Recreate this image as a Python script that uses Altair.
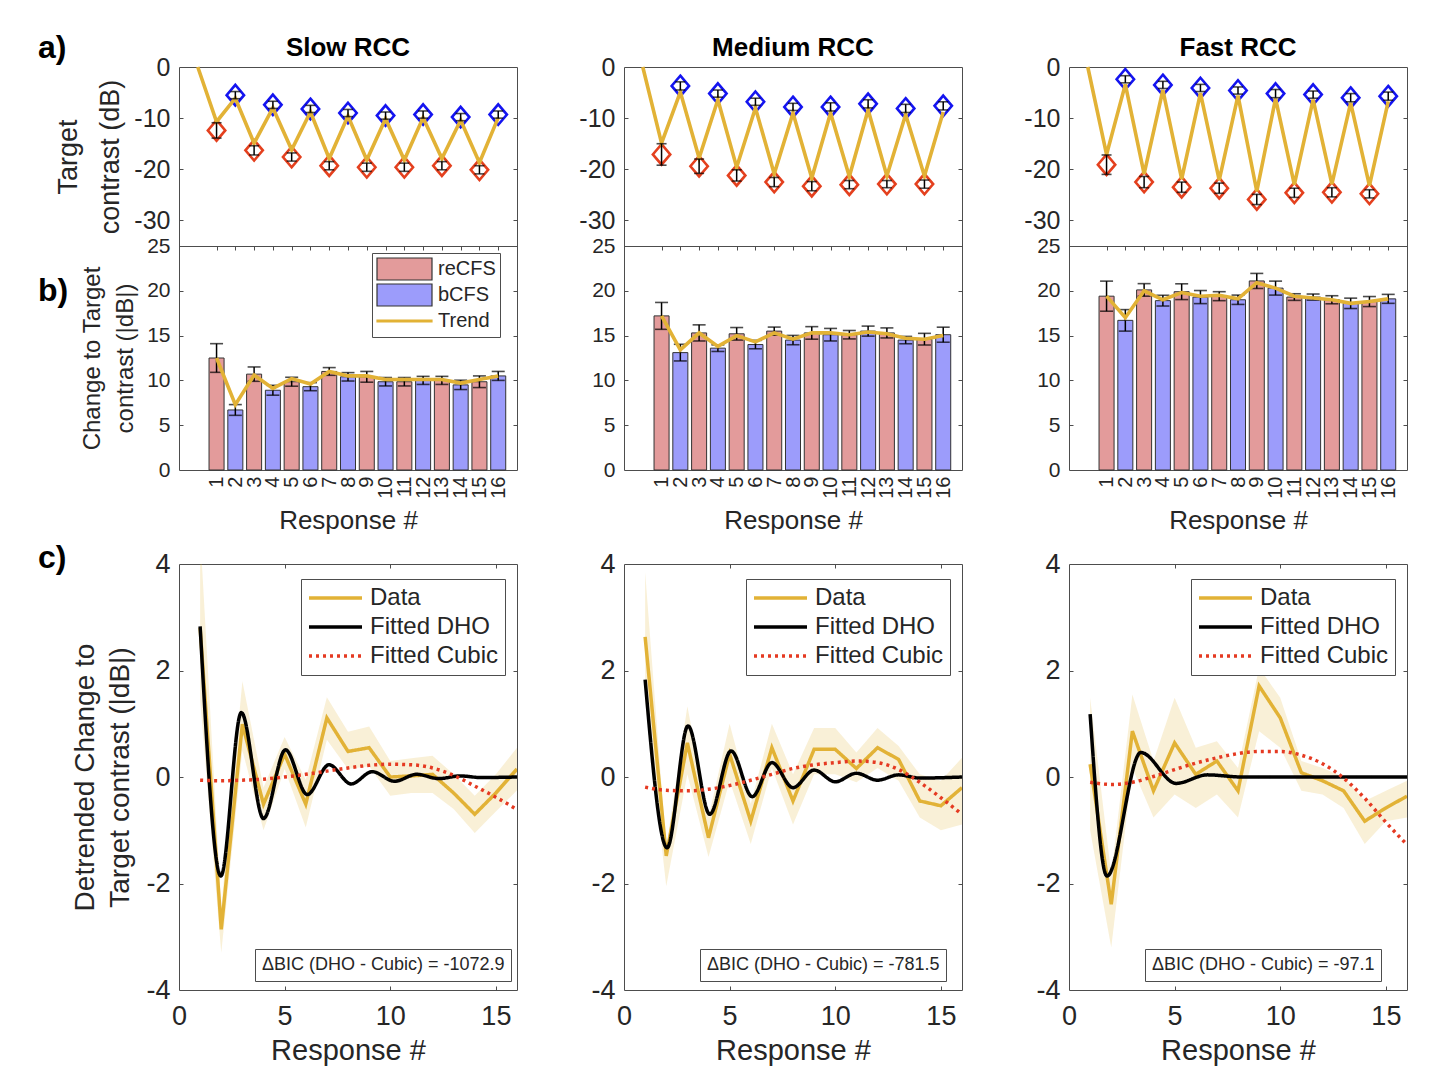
import altair as alt
import pandas as pd

# ---------------- data ----------------
RESPONSES = list(range(1, 17))
CONDITIONS = ["Slow RCC", "Medium RCC", "Fast RCC"]
BIC_TEXT = {"Slow RCC": "-1072.9", "Medium RCC": "-781.5", "Fast RCC": "-97.1"}

A_TICKS = [0, -10, -20, -30]
B_TICKS = [0, 5, 10, 15, 20, 25]
C_XTICKS = [0, 5, 10, 15]
C_YTICKS = [-4, -2, 0, 2, 4]

# panel a: mean target contrast (dB) per response and error half-widths
A_MEAN = {
    "Slow RCC":   [-12.4, -5.5, -16.3, -7.4, -17.6, -8.2, -19.3, -9.0, -19.6, -9.5, -19.6, -9.3, -19.3, -9.8, -20.1, -9.3],
    "Medium RCC": [-17.1, -3.7, -19.4, -5.2, -21.2, -6.8, -22.5, -7.8, -23.3, -7.8, -23.0, -7.2, -22.9, -8.1, -22.9, -7.6],
    "Fast RCC":   [-19.1, -2.4, -22.5, -3.5, -23.5, -4.1, -23.7, -4.6, -25.9, -5.2, -24.6, -5.4, -24.5, -6.0, -24.8, -5.7],
}
A_ERR = {
    "Slow RCC":   [1.5, 0.7, 0.9, 0.7, 0.8, 0.7, 0.8, 0.7, 0.8, 0.7, 0.8, 0.7, 0.8, 0.7, 0.8, 0.7],
    "Medium RCC": [2.1, 0.8, 1.4, 0.7, 1.1, 0.7, 0.9, 0.7, 0.9, 0.8, 0.8, 0.8, 0.7, 0.8, 0.8, 0.8],
    "Fast RCC":   [1.9, 0.7, 1.1, 0.7, 1.0, 0.7, 1.0, 0.7, 1.0, 0.8, 0.9, 0.7, 0.9, 0.8, 0.8, 0.8],
}
# panel a: the gold trace (starts at response 0)
A_TRACE_X = [0] + RESPONSES
A_TRACE = {
    "Slow RCC":   [0.0, -10.7, -6.1, -14.9, -8.0, -16.2, -8.8, -17.9, -9.6, -18.2, -10.1, -18.2, -9.9, -17.9, -10.4, -18.7, -9.9],
    "Medium RCC": [0.0, -14.9, -4.9, -17.8, -6.4, -19.6, -8.0, -20.9, -9.0, -21.7, -9.0, -21.4, -8.4, -21.3, -9.3, -21.3, -8.8],
    "Fast RCC":   [0.0, -17.1, -3.4, -20.9, -4.5, -21.9, -5.1, -22.1, -5.6, -24.3, -6.2, -23.0, -6.4, -22.9, -7.0, -23.2, -6.7],
}

# panel b: change to target contrast (|dB|)
B_BAR = {
    "Slow RCC":   [12.5, 6.7, 10.7, 8.9, 9.85, 9.3, 11.0, 10.4, 10.4, 9.85, 9.85, 10.0, 10.0, 9.5, 9.85, 10.5],
    "Medium RCC": [17.2, 13.1, 15.3, 13.6, 15.2, 14.0, 15.5, 14.5, 15.3, 15.1, 15.1, 15.5, 15.3, 14.5, 14.6, 15.1],
    "Fast RCC":   [19.4, 16.7, 20.1, 18.9, 19.9, 19.3, 19.4, 19.0, 21.1, 20.3, 19.3, 19.3, 19.0, 18.6, 18.8, 19.1],
}
B_ERR = {
    "Slow RCC":   [1.6, 0.6, 0.8, 0.55, 0.5, 0.45, 0.43, 0.47, 0.6, 0.47, 0.47, 0.45, 0.45, 0.52, 0.65, 0.5],
    "Medium RCC": [1.5, 0.93, 0.9, 0.37, 0.7, 0.47, 0.45, 0.52, 0.7, 0.7, 0.47, 0.56, 0.56, 0.41, 0.65, 0.84],
    "Fast RCC":   [1.68, 1.2, 0.7, 0.6, 0.88, 0.73, 0.5, 0.52, 0.84, 0.78, 0.37, 0.34, 0.45, 0.58, 0.56, 0.5],
}
B_TREND = {
    "Slow RCC":   [12.5, 7.3, 10.6, 9.1, 10.2, 9.6, 11.0, 10.5, 10.5, 10.1, 10.1, 10.1, 10.1, 9.7, 10.1, 10.5],
    "Medium RCC": [17.2, 13.4, 15.3, 13.8, 15.0, 14.3, 15.3, 14.6, 15.3, 15.3, 15.1, 15.4, 15.2, 14.7, 14.6, 15.0],
    "Fast RCC":   [19.4, 17.0, 20.0, 19.0, 19.8, 19.4, 19.5, 19.1, 20.9, 20.3, 19.4, 19.2, 19.0, 18.6, 18.8, 19.1],
}
B_SERIES = ["reCFS", "bCFS", "Trend"]

# panel c: detrended data with its band, fitted DHO and fitted cubic
C_DATA = {
    "Slow RCC":   [2.8, -2.86, 0.99, -0.51, 0.43, -0.51, 1.11, 0.48, 0.55, 0.0, 0.02, 0.05, -0.3, -0.7, -0.3, 0.15],
    "Medium RCC": [2.63, -1.48, 0.64, -1.14, 0.43, -0.83, 0.55, -0.45, 0.52, 0.52, 0.16, 0.55, 0.33, -0.45, -0.54, -0.2],
    "Fast RCC":   [0.24, -2.39, 0.86, -0.26, 0.64, 0.05, 0.3, -0.26, 1.71, 1.11, 0.08, -0.07, -0.26, -0.83, -0.58, -0.36],
}
C_LO = {
    "Slow RCC":   [1.45, -3.3, 0.5, -1.0, 0.15, -0.95, 0.7, 0.15, 0.2, -0.35, -0.3, -0.3, -0.6, -1.05, -0.65, -0.25],
    "Medium RCC": [1.46, -2.05, 0.05, -1.5, -0.07, -1.26, 0.17, -0.89, 0.05, 0.05, -0.1, 0.17, -0.07, -0.76, -1.0, -0.89],
    "Fast RCC":   [-1.0, -3.2, 0.17, -0.76, -0.33, -0.58, -0.33, -0.76, 0.86, 0.55, -0.26, -0.33, -0.58, -1.26, -0.83, -0.76],
}
C_HI = {
    "Slow RCC":   [4.6, -2.45, 1.8, -0.2, 0.75, -0.05, 1.5, 0.85, 0.95, 0.3, 0.35, 0.4, 0.05, -0.35, 0.05, 0.55],
    "Medium RCC": [3.85, -1.33, 1.33, -0.76, 1.0, -0.5, 1.0, 0.05, 0.92, 0.92, 0.46, 0.92, 0.58, 0.05, -0.07, 0.36],
    "Fast RCC":   [1.49, -1.83, 1.55, 0.3, 1.49, 0.55, 0.67, 0.17, 2.05, 1.49, 0.3, 0.17, 0.0, -0.45, -0.26, -0.07],
}
DHO_X = {
    "Slow RCC":   [1, 1.98, 2.95, 4.0, 5.04, 6.07, 7.1, 8.15, 9.15, 10.2, 11.25, 12.3, 13.3, 14.3, 16],
    "Medium RCC": [1, 2.04, 3.03, 4.06, 5.07, 6.07, 7.0, 8.0, 9.0, 10.0, 11.0, 12.0, 13.0, 14.0, 16],
    "Fast RCC":   [1, 1.8, 3.4, 5.07, 6.55, 8.2, 16],
}
DHO_Y = {
    "Slow RCC":   [2.83, -1.86, 1.21, -0.78, 0.51, -0.33, 0.23, -0.13, 0.1, -0.08, 0.05, -0.03, 0.02, -0.01, 0.0],
    "Medium RCC": [1.83, -1.33, 0.96, -0.7, 0.49, -0.37, 0.27, -0.2, 0.13, -0.09, 0.07, -0.06, 0.04, -0.02, 0.0],
    "Fast RCC":   [1.18, -1.86, 0.46, -0.12, 0.04, 0.0, 0.0],
}
C_CUBIC = {
    "Slow RCC":   [-0.06, -0.07, -0.06, -0.04, 0.0, 0.05, 0.11, 0.17, 0.22, 0.24, 0.23, 0.17, 0.03, -0.17, -0.38, -0.61],
    "Medium RCC": [-0.19, -0.25, -0.26, -0.23, -0.16, -0.06, 0.05, 0.16, 0.23, 0.27, 0.3, 0.27, 0.14, -0.1, -0.39, -0.7],
    "Fast RCC":   [-0.1, -0.14, -0.1, 0.01, 0.14, 0.26, 0.36, 0.44, 0.48, 0.48, 0.41, 0.25, -0.02, -0.4, -0.85, -1.27],
}
C_SERIES = ["Data", "Fitted DHO", "Fitted Cubic"]

# ---------------- style ----------------
FONT = "Liberation Sans"
TXT = "#262626"
FRAME = "#4d4d4d"
GOLD = "#E2B236"
RED_M = "#E4401E"
BLUE_M = "#1414F0"
RED_BAR = "#E39B9B"
BLUE_BAR = "#9C9CFB"
EDGE = "#333333"
CUBIC_RED = "#E53A22"

W = 338
H_AB = 403
H_A = 179
H_C = 426

RECT_PATH = "M-1,-0.4H1V0.4H-1Z"
LINE_PATH = "M-1,-0.035H1V0.035H-1Z"
DIAMOND_PATH = "M0,-1L0.85,0L0,1L-0.85,0Z"
HYPHEN_EXPR = "replace(datum.label, '\u2212', '-')"


def sx_ab():
    return alt.Scale(domain=[-1, 17], nice=False, zero=False)


def sy_a():
    return alt.Scale(domain=[-35, 0], range=[H_A, 0], nice=False, zero=False)


def sy_b():
    return alt.Scale(domain=[0, 25], range=[H_AB, H_A], nice=False, zero=False)


def sx_c():
    return alt.Scale(domain=[0, 16], nice=False, zero=False)


def sy_c():
    return alt.Scale(domain=[-4, 4], nice=False, zero=False)


def tick_axis(orient, offset, values, domain=False):
    return alt.Axis(orient=orient, offset=offset, values=values, labels=False, ticks=True,
                    tickSize=4, tickColor=FRAME, tickWidth=1, domain=domain,
                    domainColor=FRAME, domainWidth=1, grid=False, title=None)


def ghost(df, xf, yf, xscale, yscale, xaxis, yaxis):
    return alt.Chart(df).mark_point(opacity=0).encode(
        x=alt.X(f"{xf}:Q", scale=xscale, axis=xaxis),
        y=alt.Y(f"{yf}:Q", scale=yscale, axis=yaxis),
    )


def label_text(txt, px, py, size=32, align="left"):
    return alt.Chart(pd.DataFrame({"t": [txt]})).mark_text(
        fontSize=size, fontWeight="bold", align=align, baseline="middle", color="black", font=FONT
    ).encode(text="t:N", x=alt.value(px), y=alt.value(py))


def panel_ab(cond, first):
    a_df = pd.DataFrame({"resp": RESPONSES, "val": A_MEAN[cond], "err": A_ERR[cond]})
    a_tr = pd.DataFrame({"resp": A_TRACE_X, "val": A_TRACE[cond]})
    xa = alt.X("resp:Q", scale=sx_ab(), axis=None)
    ya_axis = alt.Axis(orient="left", values=A_TICKS, labelFontSize=25, labelPadding=9, ticks=False,
                       tickSize=0, domain=False, grid=False, labelFlush=False, labelOverlap=False,
                       labelExpr=HYPHEN_EXPR,
                       title=["Target", "contrast (dB)"] if first else None,
                       titleFontSize=27, titleLineHeight=42, titleX=-97)
    base_a = alt.Chart(a_df).transform_calculate(lo="datum.val - datum.err", hi="datum.val + datum.err")
    diamonds = base_a.mark_point(shape=DIAMOND_PATH, filled=False, size=420, strokeWidth=2.6, opacity=1).encode(
        x=xa, y=alt.Y("val:Q", scale=sy_a(), axis=ya_axis),
        color=alt.condition("datum.resp % 2 == 1", alt.value(RED_M), alt.value(BLUE_M)),
    )
    trace = alt.Chart(a_tr).mark_line(color=GOLD, strokeWidth=3.6).encode(
        x=xa, y=alt.Y("val:Q", scale=sy_a(), axis=None))
    a_rule = base_a.mark_rule(color="black", strokeWidth=1.5).encode(
        x=xa, y=alt.Y("lo:Q", scale=sy_a(), axis=None), y2="hi:Q")
    a_cap_lo = base_a.mark_tick(orient="horizontal", size=10, thickness=1.6, color="black").encode(
        x=xa, y=alt.Y("lo:Q", scale=sy_a(), axis=None))
    a_cap_hi = base_a.mark_tick(orient="horizontal", size=10, thickness=1.6, color="black").encode(
        x=xa, y=alt.Y("hi:Q", scale=sy_a(), axis=None))
    ga1 = ghost(a_df, "resp", "val", sx_ab(), sy_a(), None, tick_axis("right", -W, A_TICKS[1:]))
    ga2 = ghost(a_df, "resp", "val", sx_ab(), sy_a(), None, tick_axis("left", -W, A_TICKS[1:]))
    a_layers = [diamonds, trace, a_rule, a_cap_lo, a_cap_hi, ga1, ga2,
                label_text(cond, W / 2, -19, size=26, align="center")]
    if first:
        a_layers += [label_text("a)", -141, -19), label_text("b)", -141, 224)]
    A = alt.layer(*a_layers).resolve_axis(x="independent", y="independent")

    b_df = pd.DataFrame({"resp": RESPONSES, "val": B_BAR[cond], "err": B_ERR[cond], "trend": B_TREND[cond]})
    base_b = alt.Chart(b_df).transform_calculate(
        x0="datum.resp - 0.4", x1="datum.resp + 0.4",
        lo="datum.val - datum.err", hi="datum.val + datum.err")
    xb_axis = alt.Axis(orient="bottom", values=RESPONSES, labelAngle=270, labelAlign="right",
                       labelBaseline="middle", labelFontSize=20, labelPadding=6, ticks=False, tickSize=0,
                       domain=False, grid=False, labelOverlap=False, labelFlush=False, format="d",
                       title="Response #", titleFontSize=26, titleY=37)
    yb_axis = alt.Axis(orient="left", values=B_TICKS, labelFontSize=21, labelPadding=9, ticks=False,
                       tickSize=0, domain=False, grid=False, labelFlush=False, labelOverlap=False,
                       title=["Change to Target", "contrast (|dB|)"] if first else None,
                       titleFontSize=24, titleLineHeight=33, titleX=-75)
    bars = base_b.mark_bar(stroke=EDGE, strokeWidth=1).encode(
        x=alt.X("x0:Q", scale=sx_ab(), axis=xb_axis), x2="x1:Q",
        y=alt.Y("val:Q", scale=sy_b(), axis=yb_axis), y2=alt.datum(0),
        fill=alt.condition("datum.resp % 2 == 1", alt.value(RED_BAR), alt.value(BLUE_BAR)),
    )
    xb = alt.X("resp:Q", scale=sx_ab(), axis=None)
    b_rule = base_b.mark_rule(color="black", strokeWidth=1.5).encode(
        x=xb, y=alt.Y("lo:Q", scale=sy_b(), axis=None), y2="hi:Q")
    b_cap_lo = base_b.mark_tick(orient="horizontal", size=13, thickness=1.6, color="black").encode(
        x=xb, y=alt.Y("lo:Q", scale=sy_b(), axis=None))
    b_cap_hi = base_b.mark_tick(orient="horizontal", size=13, thickness=1.6, color="black").encode(
        x=xb, y=alt.Y("hi:Q", scale=sy_b(), axis=None))
    trend = base_b.mark_line(color=GOLD, strokeWidth=3.6).encode(
        x=xb, y=alt.Y("trend:Q", scale=sy_b(), axis=None))
    gb1 = ghost(b_df, "resp", "val", sx_ab(), sy_b(),
                tick_axis("bottom", -(H_AB - H_A), RESPONSES, domain=True),
                tick_axis("right", -W, B_TICKS[1:-1]))
    gb2 = ghost(b_df, "resp", "val", sx_ab(), sy_b(), None, tick_axis("left", -W, B_TICKS[1:-1]))
    b_layers = [bars, b_rule, b_cap_lo, b_cap_hi, trend, gb1, gb2]
    if first:
        leg_df = pd.DataFrame({"series": B_SERIES, "resp": [1, 2, 3], "val": [1, 1, 1]})
        leg = alt.Legend(title=None, orient="none", legendX=193, legendY=186, direction="vertical",
                         labelFontSize=20, labelColor=TXT, labelLimit=600, labelOffset=5,
                         symbolSize=3025, symbolStrokeWidth=1.2, clipHeight=24, rowPadding=2,
                         padding=4, strokeColor=FRAME, fillColor="white", cornerRadius=0)
        legend_layer = alt.Chart(leg_df).transform_filter("false").mark_point(
            filled=True, opacity=1, strokeWidth=1.2).encode(
            x=alt.X("resp:Q", scale=sx_ab(), axis=None),
            y=alt.Y("val:Q", scale=sy_b(), axis=None),
            color=alt.Color("series:N", scale=alt.Scale(domain=B_SERIES, range=[RED_BAR, BLUE_BAR, GOLD]), legend=leg),
            stroke=alt.Stroke("series:N", scale=alt.Scale(domain=B_SERIES, range=[EDGE, EDGE, GOLD]), legend=leg),
            shape=alt.Shape("series:N", scale=alt.Scale(domain=B_SERIES, range=[RECT_PATH, RECT_PATH, LINE_PATH]), legend=leg),
        )
        b_layers.append(legend_layer)
    B = alt.layer(*b_layers).resolve_axis(x="independent", y="independent")

    return alt.layer(A, B).resolve_scale(y="independent").resolve_axis(
        x="independent", y="independent").properties(width=W, height=H_AB)


def panel_c(cond, first):
    band_df = pd.DataFrame({"resp": RESPONSES, "lo": C_LO[cond], "hi": C_HI[cond]})
    data_df = pd.DataFrame({"resp": RESPONSES, "val": C_DATA[cond], "series": "Data"})
    dho_df = pd.DataFrame({"resp": DHO_X[cond], "val": DHO_Y[cond], "series": "Fitted DHO"})
    cub_df = pd.DataFrame({"resp": RESPONSES, "val": C_CUBIC[cond], "series": "Fitted Cubic"})

    xc_axis = alt.Axis(orient="bottom", values=C_XTICKS, labelFontSize=27, labelPadding=13, ticks=False,
                       tickSize=0, domain=False, grid=False, labelFlush=False, labelOverlap=False,
                       title="Response #", titleFontSize=29, titleY=46)
    yc_axis = alt.Axis(orient="left", values=C_YTICKS, labelFontSize=27, labelPadding=9, ticks=False,
                       tickSize=0, domain=False, grid=False, labelFlush=False, labelOverlap=False,
                       labelExpr=HYPHEN_EXPR,
                       title=["Detrended Change to", "Target contrast (|dB|)"] if first else None,
                       titleFontSize=28, titleLineHeight=35, titleX=-80)
    band = alt.Chart(band_df).mark_area(color=GOLD, opacity=0.2, clip=True).encode(
        x=alt.X("resp:Q", scale=sx_c(), axis=xc_axis),
        y=alt.Y("lo:Q", scale=sy_c(), axis=yc_axis), y2="hi:Q")

    leg = alt.Legend(title=None, orient="none", legendX=122, legendY=15, direction="vertical",
                     labelFontSize=24, labelColor=TXT, labelLimit=600, labelOffset=6,
                     symbolSize=2809, symbolStrokeWidth=3.5, symbolType="stroke", clipHeight=26,
                     rowPadding=3, padding=6, strokeColor=FRAME, fillColor="white", cornerRadius=0)

    def series_line(df, interp):
        return alt.Chart(df).mark_line(strokeWidth=3.5, clip=True, interpolate=interp).encode(
            x=alt.X("resp:Q", scale=sx_c(), axis=None),
            y=alt.Y("val:Q", scale=sy_c(), axis=None),
            color=alt.Color("series:N", scale=alt.Scale(domain=C_SERIES, range=[GOLD, "black", CUBIC_RED]), legend=leg),
            strokeDash=alt.StrokeDash("series:N", scale=alt.Scale(domain=C_SERIES, range=[[1, 0], [1, 0], [3, 4]]), legend=leg),
        )

    data_line = series_line(data_df, "linear")
    dho_line = series_line(dho_df, "monotone")
    cub_line = series_line(cub_df, "monotone")

    bic_label = f"\u0394BIC (DHO - Cubic) = {BIC_TEXT[cond]}"
    bic_df = pd.DataFrame({"resp": [1], "val": [0], "lab": [bic_label]})
    bic_leg = alt.Legend(title=None, orient="none", legendX=76, legendY=385, labelFontSize=18,
                         labelColor=TXT, labelLimit=600, labelOffset={"expr": "-17"}, symbolSize=1,
                         symbolType="circle", symbolOpacity=0, clipHeight=20, padding=6,
                         strokeColor=FRAME, fillColor="white", cornerRadius=0)
    bic = alt.Chart(bic_df).transform_filter("false").mark_point(opacity=0).encode(
        x=alt.X("resp:Q", scale=sx_c(), axis=None),
        y=alt.Y("val:Q", scale=sy_c(), axis=None),
        shape=alt.Shape("lab:N", scale=alt.Scale(domain=[bic_label]), legend=bic_leg),
    )
    gc1 = ghost(data_df, "resp", "val", sx_c(), sy_c(),
                tick_axis("top", -H_C, C_XTICKS[1:]), tick_axis("right", -W, C_YTICKS[1:-1]))
    gc2 = ghost(data_df, "resp", "val", sx_c(), sy_c(),
                tick_axis("bottom", -H_C, C_XTICKS[1:]), tick_axis("left", -W, C_YTICKS[1:-1]))
    layers = [band, data_line, dho_line, cub_line, bic, gc1, gc2]
    if first:
        layers.append(label_text("c)", -141, -6))
    return alt.layer(*layers).resolve_axis(x="independent", y="independent").properties(width=W, height=H_C)


panels = [panel_ab(c, i == 0) for i, c in enumerate(CONDITIONS)] + \
         [panel_c(c, i == 0) for i, c in enumerate(CONDITIONS)]

chart = alt.concat(*panels, columns=3, spacing={"row": 94, "column": 107}, bounds="flush").resolve_scale(
    color="independent", strokeDash="independent", shape="independent", stroke="independent"
).properties(
    padding={"left": 29, "top": 23, "right": 10, "bottom": 10}
).configure(font=FONT).configure_view(stroke=FRAME, strokeWidth=1).configure_axis(
    labelColor=TXT, titleColor=TXT, titleFontWeight="normal", labelFont=FONT, titleFont=FONT, grid=False
).configure_legend(labelFont=FONT)

chart.save("out.html", embed_options={"renderer": "svg", "actions": False})
